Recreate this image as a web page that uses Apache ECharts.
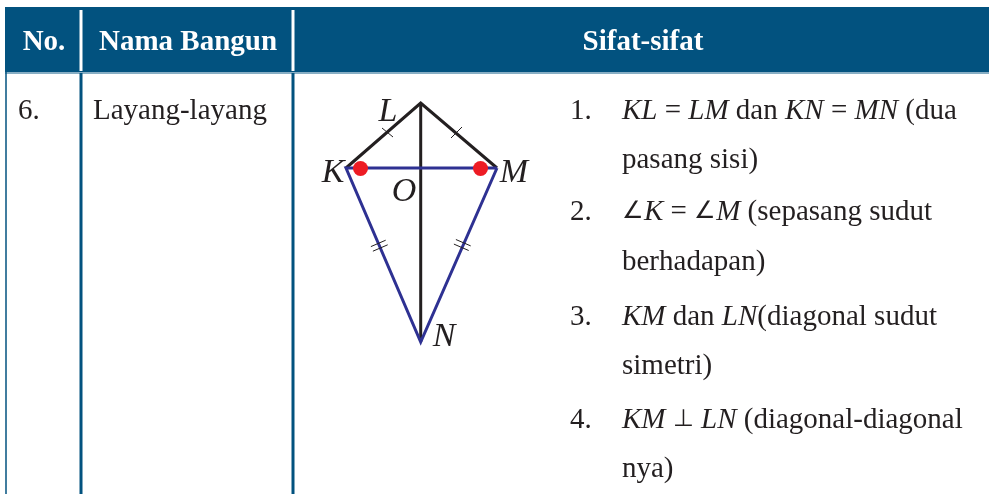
<!DOCTYPE html>
<html>
<head>
<meta charset="utf-8">
<title>Layang-layang</title>
<script src="https://cdn.jsdelivr.net/npm/echarts@6/dist/echarts.min.js"></script>
<style>
html,body{margin:0;padding:0;background:#fff}
#main{width:989px;height:494px}
</style>
</head>
<body>
<div id="main"></div>
<script>
// table
var headerBand = [[5, 7, 989, 72]];
var headerSeparators = [[81, 10, 81, 71], [293, 10, 293, 71]];
var headerEdge = [[5, 73, 989, 73]];
var tableRules = [[6, 72, 6, 494], [81, 73, 81, 494], [293, 73, 293, 494]];
var headerLabels = [['No.', 44, 43], ['Nama Bangun', 188, 43], ['Sifat-sifat', 643, 43]];
var rowLabels = [['6.', 18, 111], ['Layang-layang', 93, 111]];

// kite
var pointL = [420.7, 103];
var pointK = [346, 168];
var pointM = [497, 168];
var pointN = [420.7, 342];
var blackSides = [pointK, pointL, pointM];
var blueSides = [pointM, pointK, pointN, pointM];
var axisLine = [pointL, pointN];
var redDots = [[360.5, 168.5], [480.5, 168.5]];
var tickMarks = [
  [[382, 128], [393, 137]],
  [[451, 138], [462, 127]],
  [[370.9, 246.6], [385.7, 240.2]],
  [[372.9, 251.2], [387.7, 244.8]],
  [[455.9, 239.5], [470.7, 245.9]],
  [[453.9, 244.1], [468.7, 250.5]]
];
var pointLabels = [['L', 388, 112], ['K', 333, 173], ['M', 514, 173], ['O', 404, 192], ['N', 444, 337]];

// sifat-sifat
var listNumbers = [['1.', 570, 111], ['2.', 570, 212], ['3.', 570, 317], ['4.', 570, 420]];
var listLines = [
  ['{i|KL} {r|=} {i|LM} {r|dan} {i|KN} {r|=} {i|MN} {r|(dua}', 622, 111],
  ['{r|pasang sisi)}', 622, 160],
  ['{s|∠}{i|K} {r|=} {s|∠}{i|M} {r|(sepasang sudut}', 622, 212],
  ['{r|berhadapan)}', 622, 262],
  ['{i|KM} {r|dan} {i|LN}{r|(diagonal sudut}', 622, 317],
  ['{r|simetri)}', 622, 366],
  ['{i|KM} {s|⊥} {i|LN} {r|(diagonal-diagonal}', 622, 420],
  ['{r|nya)}', 622, 469]
];

var serif = '"Liberation Serif", serif';
var bodySize = 29;
var textColor = '#231f20';
var tableBlue = '#02527f';
var kiteBlue = '#2e3192';

function lineSeries(data, color, width, z) {
  return {
    type: 'line', data: data, showSymbol: false, silent: true, z: z,
    lineStyle: { color: color, width: width, join: 'miter', opacity: 1 }
  };
}

function textSeries(rows, label, z) {
  return {
    type: 'scatter', symbolSize: 1, silent: true, z: z || 10,
    itemStyle: { color: 'transparent', opacity: 1 },
    data: rows.map(function (r) { return { value: [r[1], r[2]], name: r[0] }; }),
    label: Object.assign({ show: true, position: 'inside', formatter: '{b}', fontFamily: serif, opacity: 1 }, label)
  };
}

var series = [
  {
    type: 'custom', z: 1, silent: true, data: headerBand,
    renderItem: function (params, api) {
      var a = api.coord([api.value(0), api.value(1)]);
      var b = api.coord([api.value(2), api.value(3)]);
      return { type: 'rect', shape: { x: a[0], y: a[1], width: b[0] - a[0], height: b[1] - a[1] }, style: { fill: tableBlue } };
    }
  }
];
headerSeparators.forEach(function (s) {
  series.push(lineSeries([[s[0], s[1]], [s[2], s[3]]], '#ffffff', 3, 2));
});
headerEdge.forEach(function (s) {
  series.push(lineSeries([[s[0], s[1]], [s[2], s[3]]], '#5f93b0', 1.5, 2));
});
tableRules.forEach(function (s, i) {
  series.push(lineSeries([[s[0], s[1]], [s[2], s[3]]], tableBlue, i === 0 ? 1.5 : 3, 3));
});
series.push(lineSeries(axisLine, '#231f20', 3, 3));
series.push(lineSeries(blackSides, '#231f20', 3, 3));
series.push(lineSeries(blueSides, kiteBlue, 3, 4));
tickMarks.forEach(function (t) {
  series.push(lineSeries(t, '#231f20', 1, 5));
});
series.push({
  type: 'scatter', z: 6, silent: true, data: redDots, symbolSize: 15,
  itemStyle: { color: '#ed1c24', opacity: 1 }
});
series.push(textSeries(headerLabels, { color: '#ffffff', fontSize: 29, fontWeight: 'bold', align: 'center', verticalAlign: 'middle' }));
series.push(textSeries(rowLabels, { color: textColor, fontSize: bodySize, align: 'left', verticalAlign: 'middle' }));
series.push(textSeries(pointLabels, { color: textColor, fontSize: 34, fontStyle: 'italic', align: 'center', verticalAlign: 'middle' }));
series.push(textSeries(listNumbers, { color: textColor, fontSize: bodySize, align: 'left', verticalAlign: 'middle' }));
series.push(textSeries(listLines, {
  color: textColor, fontSize: bodySize, align: 'left', verticalAlign: 'middle',
  rich: {
    i: { fontFamily: serif, fontSize: bodySize, fontStyle: 'italic', color: textColor },
    r: { fontFamily: serif, fontSize: bodySize, color: textColor },
    s: { fontFamily: serif, fontSize: 24, color: textColor }
  }
}));

var chart = echarts.init(document.getElementById('main'), null, { renderer: 'canvas' });
chart.setOption({
  animation: false,
  backgroundColor: '#ffffff',
  grid: { left: 0, right: 0, top: 0, bottom: 0 },
  xAxis: { type: 'value', min: 0, max: 989, show: false },
  yAxis: { type: 'value', min: 0, max: 494, inverse: true, show: false },
  series: series
});
</script>
</body>
</html>
